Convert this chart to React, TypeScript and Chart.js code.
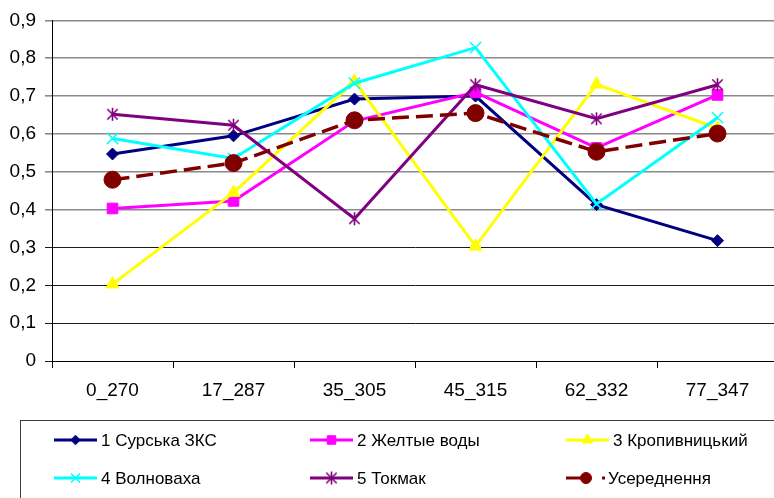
import React, { useEffect, useRef } from "react";
import { Chart, registerables } from "chart.js";
import { drawPoint } from "chart.js/helpers";

Chart.register(...registerables);

const categories = ["0_270", "17_287", "35_305", "45_315", "62_332", "77_347"];
const yTickLabels = ["0", "0,1", "0,2", "0,3", "0,4", "0,5", "0,6", "0,7", "0,8", "0,9"];

const surskaZks = [0.547, 0.595, 0.692, 0.7, 0.413, 0.318];
const zheltyeVody = [0.403, 0.423, 0.634, 0.71, 0.563, 0.703];
const kropyvnytskyi = [0.203, 0.445, 0.739, 0.303, 0.731, 0.615];
const volnovakha = [0.588, 0.535, 0.734, 0.828, 0.415, 0.643];
const tokmak = [0.652, 0.623, 0.376, 0.73, 0.64, 0.73];
const averaged = [0.479, 0.523, 0.636, 0.655, 0.553, 0.601];

const seriesNames = [
  "1 Сурська ЗКС",
  "2 Желтые воды",
  "3 Кропивницький",
  "4 Волноваха",
  "5 Токмак",
  "Усереднення",
];

const FONT = "'Liberation Sans', Arial, sans-serif";

// Six-armed asterisk marker (an "x" with a vertical stroke)
function makeAsterisk(color: string, size: number) {
  const c = document.createElement("canvas");
  c.width = size;
  c.height = size;
  const g = c.getContext("2d")!;
  const m = size / 2;
  const r = size / 2 - 1;
  g.strokeStyle = color;
  g.lineWidth = 1.6;
  g.beginPath();
  g.moveTo(m, m - r);
  g.lineTo(m, m + r);
  const d = r * 0.8;
  g.moveTo(m - d, m - d);
  g.lineTo(m + d, m + d);
  g.moveTo(m + d, m - d);
  g.lineTo(m - d, m + d);
  g.stroke();
  return c;
}

// Boxed two-row legend drawn below the plot
const boxLegend = {
  id: "boxLegend",
  afterDraw(chart: any) {
    const ctx = chart.ctx;
    ctx.save();
    ctx.strokeStyle = "#404040";
    ctx.lineWidth = 1;
    ctx.strokeRect(20.5, 420.5, 1000, 200);
    const cols = [54, 310, 566];
    const rows = [440, 478];
    chart.data.datasets.forEach((ds: any, i: number) => {
      const x = cols[i % 3];
      const y = rows[Math.floor(i / 3)];
      const dashed = ds.borderDash && ds.borderDash.length;
      ctx.strokeStyle = ds.borderColor;
      ctx.lineWidth = 3;
      ctx.setLineDash([]);
      ctx.beginPath();
      if (dashed) {
        ctx.moveTo(x, y);
        ctx.lineTo(x + 18, y);
        ctx.stroke();
        ctx.fillStyle = ds.borderColor;
        ctx.fillRect(x + 36, y - 1.5, 3, 3);
      } else {
        ctx.moveTo(x, y);
        ctx.lineTo(x + 43, y);
        ctx.stroke();
      }
      ctx.fillStyle = ds.pointBackgroundColor;
      ctx.strokeStyle = ds.pointBorderColor;
      ctx.lineWidth = ds.pointBorderWidth;
      const cx = dashed ? x + 20 : x + 21.5;
      if (typeof ds.pointStyle === "string") {
        drawPoint(ctx, {
          pointStyle: ds.pointStyle,
          rotation: 0,
          borderWidth: ds.pointBorderWidth,
          radius: ds.pointStyle === "circle" ? 5.5 : ds.pointRadius * 0.8,
        } as any, cx, y);
      } else {
        const img = ds.pointStyle as HTMLCanvasElement;
        ctx.drawImage(img, cx - img.width / 2, y - img.height / 2);
      }
      ctx.fillStyle = "#000";
      ctx.font = `17px ${FONT}`;
      ctx.textBaseline = "middle";
      ctx.textAlign = "left";
      ctx.fillText(seriesNames[i], dashed ? x + 42 : x + 47, y + 1);
    });
    ctx.restore();
  },
};

function series(label: string, data: number[], color: string, style: any, radius: number, order: number, extra: any = {}) {
  return {
    label,
    data,
    borderColor: color,
    backgroundColor: color,
    pointBackgroundColor: color,
    pointBorderColor: color,
    pointBorderWidth: style === "crossRot" ? 1.5 : 1,
    borderWidth: 3,
    pointStyle: style,
    pointRadius: radius,
    tension: 0,
    order,
    ...extra,
  };
}

export default function App() {
  const ref = useRef<HTMLCanvasElement>(null);

  useEffect(() => {
    if (!ref.current) return;
    const chart = new Chart(ref.current, {
      type: "line",
      data: {
        labels: categories,
        datasets: [
          series(seriesNames[0], surskaZks, "#000080", "rectRot", 6, 5),
          series(seriesNames[1], zheltyeVody, "#FF00FF", "rect", 7.5, 4),
          series(seriesNames[2], kropyvnytskyi, "#FFFF00", "triangle", 7.5, 3),
          series(seriesNames[3], volnovakha, "#00FFFF", "crossRot", 8, 2),
          series(seriesNames[4], tokmak, "#800080", makeAsterisk("#800080", 15), 7, 1),
          series(seriesNames[5], averaged, "#800000", "circle", 8.5, 0, {
            borderDash: [17, 7],
            borderWidth: 3.5,
          }),
        ] as any,
      },
      options: {
        animation: false,
        responsive: false,
        events: [],
        layout: { padding: { left: 0, right: 12, top: 19, bottom: 0 } },
        plugins: { legend: { display: false }, tooltip: { enabled: false } },
        scales: {
          x: {
            offset: true,
            grid: {
              offset: true,
              drawOnChartArea: false,
              drawTicks: true,
              tickLength: 7,
              color: "#000",
            },
            border: { color: "#000", width: 1 },
            ticks: {
              color: "#000",
              font: { family: FONT, size: 19 },
              padding: 11,
              maxRotation: 0,
            },
            afterFit(scale: any) {
              scale.height = 137;
            },
          },
          y: {
            min: 0,
            max: 0.9,
            ticks: {
              stepSize: 0.1,
              color: "#000",
              font: { family: FONT, size: 19 },
              padding: 9,
              callback: (_v: any, i: number) => yTickLabels[i],
            },
            grid: {
              drawTicks: true,
              tickLength: 7,
              color: (c: any) => (c.tick && c.tick.value > 0.35 ? "#8a8a8a" : "#1a1a1a"),
              lineWidth: (c: any) => (c.tick && c.tick.value > 0.35 ? 1.6 : 1),
            },
            border: { color: "#000", width: 1 },
            afterFit(scale: any) {
              scale.width = 52;
            },
          },
        },
      },
      plugins: [boxLegend],
    });
    return () => chart.destroy();
  }, []);

  return (
    <div
      style={{
        position: "fixed",
        left: 0,
        top: 0,
        width: 774,
        height: 498,
        overflow: "hidden",
        background: "#fff",
      }}
    >
      <canvas ref={ref} width={790} height={498} style={{ display: "block" }} />
    </div>
  );
}
